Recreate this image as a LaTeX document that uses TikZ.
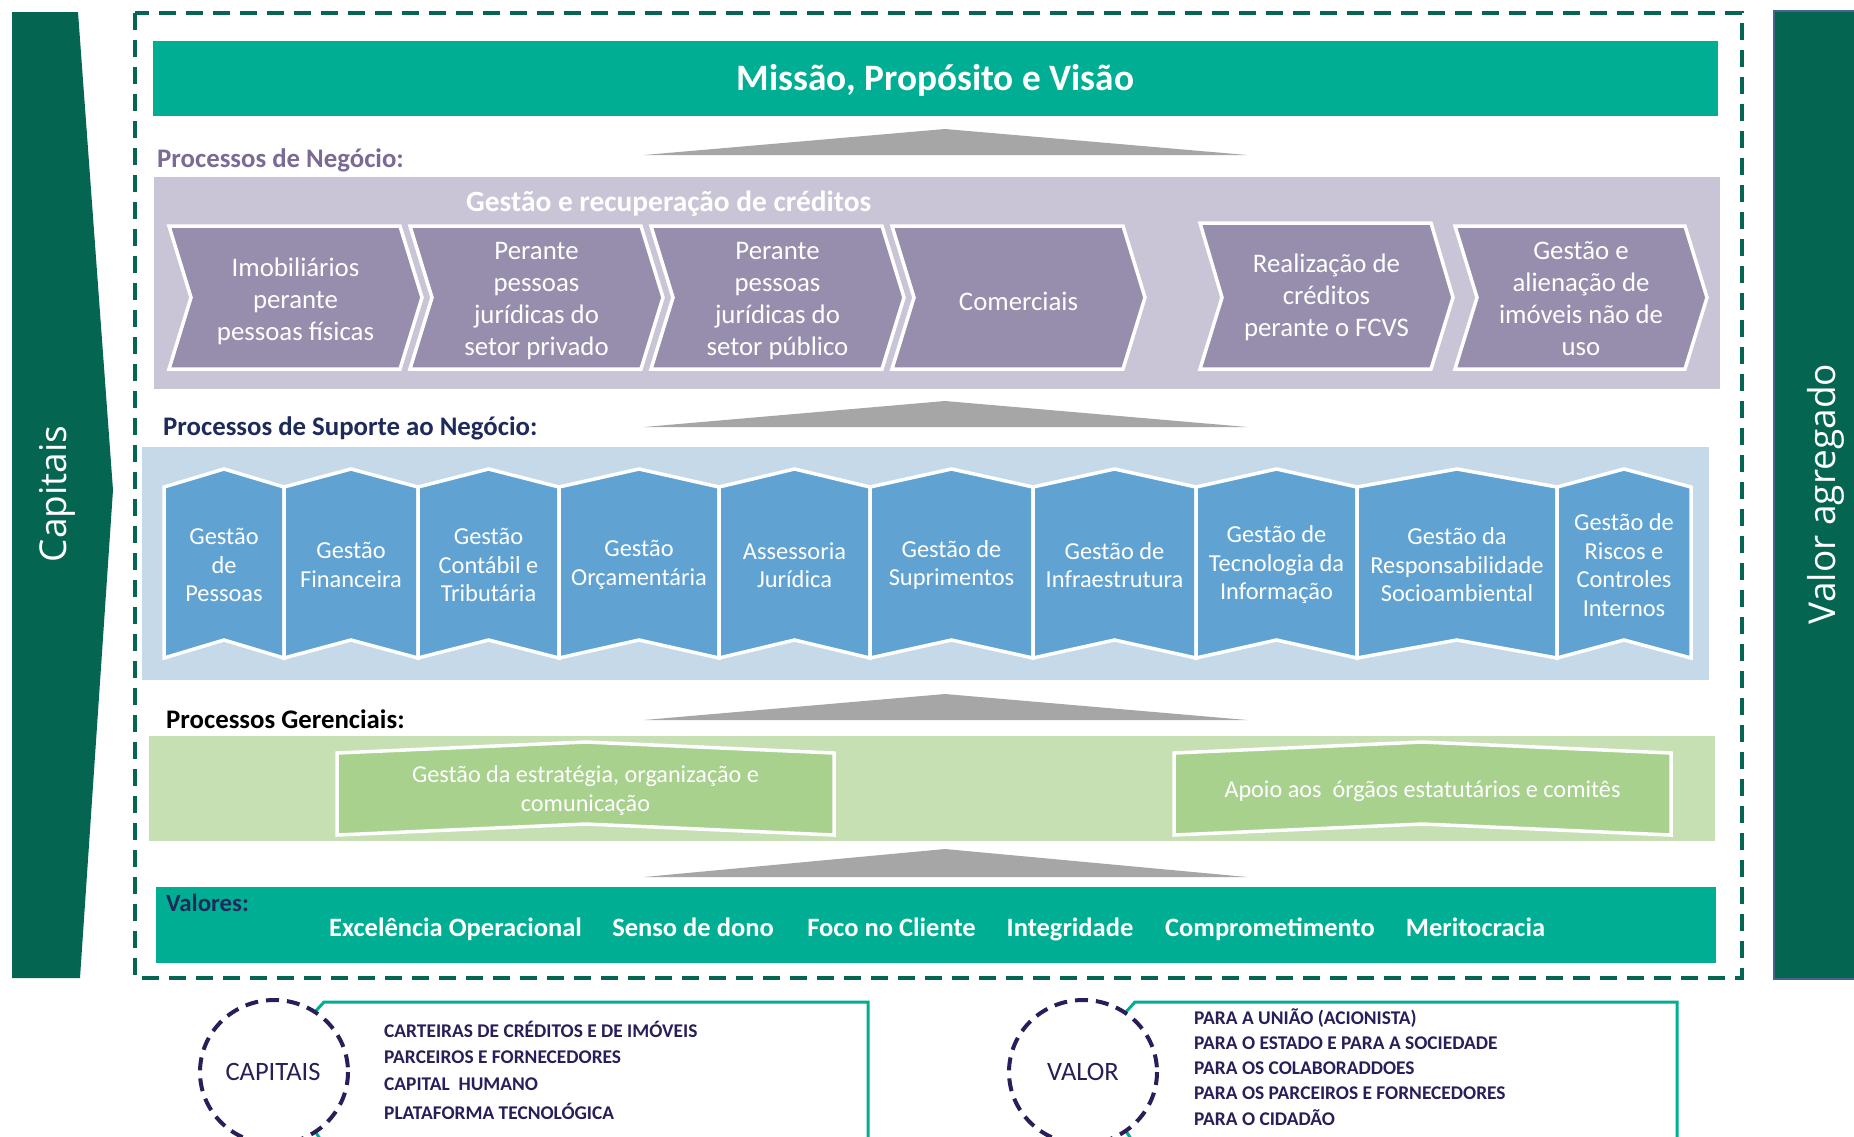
\documentclass[tikz,border=0pt]{standalone}
\usepackage{fontspec}
\setmainfont{Carlito}
\newfontfamily\sidefont{Open Sans}
\definecolor{teal}{RGB}{0,174,147}
\definecolor{dkgreen}{RGB}{4,102,80}
\definecolor{pband}{RGB}{201,197,214}
\definecolor{chev}{RGB}{151,141,173}
\definecolor{neglbl}{RGB}{122,106,150}
\definecolor{bband}{RGB}{197,217,233}
\definecolor{pen}{RGB}{96,163,211}
\definecolor{navy}{RGB}{31,42,92}
\definecolor{gband}{RGB}{198,224,180}
\definecolor{gshape}{RGB}{169,209,142}
\definecolor{tri}{RGB}{166,166,166}
\definecolor{bpurple}{RGB}{42,30,90}
\definecolor{sideedge}{RGB}{70,100,140}
\begin{document}
\begin{tikzpicture}[x=1pt,y=-1pt,
  lbl/.style={anchor=west,inner sep=0,font=\bfseries\fontsize{26.8}{31}\selectfont},
  chevtxt/.style={align=center,text=white,inner sep=0,font=\fontsize{26.8}{32}\selectfont},
  pentxt/.style={align=center,text=white,inner sep=0,font=\fontsize{24.4}{28.5}\selectfont},
  gtxt/.style={align=center,text=white,inner sep=0,font=\fontsize{24.2}{29}\selectfont},
  valtxt/.style={anchor=base,text=white,inner sep=0,font=\bfseries\fontsize{26.5}{30}\selectfont},
  sidetxt/.style={rotate=90,text=white,inner sep=0,font=\sidefont\fontsize{37}{42}\selectfont},
  listtxt/.style={anchor=west,inner sep=0,text=bpurple,font=\bfseries\fontsize{19.4}{23}\selectfont},
  circtxt/.style={inner sep=0,text=bpurple,font=\fontsize{26.5}{31}\selectfont},
  whiteedge/.style={draw=white,line width=3.5pt,line join=miter},
  uptri/.style={fill=tri}
]
\useasboundingbox (0,0) rectangle (1854,1136);
\fill[white] (0,0) rectangle (1854,1136);

% side panels
\fill[dkgreen] (12,12) -- (78,12) -- (113,490) -- (80,978) -- (12,978) -- cycle;
\node[sidetxt] (capitais) at (57,494) {Capitais};
\fill[dkgreen,draw=sideedge,line width=1.5pt] (1774,11) rectangle (1858,979);
\node[sidetxt] (valoragregado) at (1826,494) {Valor agregado};

% dashed frame
\draw[dkgreen,line width=3.5pt,dash pattern=on 17pt off 10pt] (135,13) rectangle (1742,978);

% mission
\fill[teal] (153,41) rectangle (1718,116);
\node[text=white,inner sep=0,font=\bfseries\fontsize{37.3}{43}\selectfont] (missao) at (935.5,80.5) {Missão, Propósito e Visão};

% triangles
\fill[uptri] (644,155) -- (945,129) -- (1247,155) -- cycle;
\fill[uptri] (644,427) -- (945,401) -- (1247,427) -- cycle;
\fill[uptri] (644,720) -- (945,694) -- (1247,720) -- cycle;
\fill[uptri] (644,877) -- (945,849) -- (1247,877) -- cycle;

% business processes
\node[lbl,text=neglbl] (negocio) at (157,160) {Processos de Negócio:};
\fill[pband] (154,177) rectangle (1720,389);
\node[text=white,inner sep=0,anchor=west,font=\bfseries\fontsize{29.4}{34}\selectfont] (gestrec) at (466,204) {Gestão e recuperação de créditos};
\foreach \i/\xa/\xb/\ya/\ty/\t in {
  1/169/422/226/301/{Imobiliários\\perante\\pessoas físicas},
  2/410/663/226/301/{Perante\\pessoas\\jurídicas do\\setor privado},
  3/651/904/226/301/{Perante\\pessoas\\jurídicas do\\setor público},
  4/892/1145/226/301/{Comerciais},
  5/1200/1453/223/297.5/{Realização de\\créditos\\perante o FCVS},
  6/1455/1707/226/298.5/{Gestão e\\alienação de\\imóveis não de\\uso}}{
  \fill[chev,whiteedge] (\xa,\ya) -- (\xb-22,\ya) -- (\xb,297.5) -- (\xb-22,369) -- (\xa,369) -- (\xa+22,297.5) -- cycle;
  \node[chevtxt] (chev\i) at ({(\xa+\xb)/2},\ty) {\t};
}

% support processes
\node[lbl,text=navy] (suporte) at (163,428) {Processos de Suporte ao Negócio:};
\fill[bband] (142,447) rectangle (1709,680);
\foreach \i/\xa/\xb/\t in {
  1/164/284/{Gestão\\de\\Pessoas},
  2/284/418/{Gestão\\Financeira},
  3/418/559/{Gestão\\Contábil e\\Tributária},
  4/559/719/{Gestão\\Orçamentária},
  5/719/870/{Assessoria\\Jurídica},
  6/870/1033/{Gestão de\\Suprimentos},
  7/1033/1196/{Gestão de\\Infraestrutura},
  8/1196/1357/{Gestão de\\Tecnologia da\\Informação},
  9/1357/1557/{Gestão da\\Responsabilidade\\Socioambiental},
  10/1557/1691/{Gestão de\\Riscos e\\Controles\\Internos}}{
  \fill[pen,whiteedge] (\xa,487) -- ({(\xa+\xb)/2},469) -- (\xb,487) -- (\xb,658) -- ({(\xa+\xb)/2},640) -- (\xa,658) -- cycle;
  \node[pentxt] (sup\i) at ({(\xa+\xb)/2},565) {\t};
}

% management processes
\node[lbl,text=black] (gerenciais) at (166,719) {Processos Gerenciais:};
\fill[gband] (149,736) rectangle (1715,841);
\fill[gshape,whiteedge] (337,753) -- (585.5,742) -- (834,753) -- (834,835) -- (585.5,824) -- (337,835) -- cycle;
\node[gtxt] (estrategia) at (585.5,791) {Gestão da estratégia, organização e\\comunicação};
\fill[gshape,whiteedge] (1174,753) -- (1422.5,742) -- (1671,753) -- (1671,835) -- (1422.5,824) -- (1174,835) -- cycle;
\node[gtxt] (apoio) at (1422.5,791.5) {Apoio aos\ \ órgãos estatutários e comitês};

% values
\fill[teal] (156,887) rectangle (1716,963);
\node[lbl,text=navy,font=\bfseries\fontsize{24.8}{29}\selectfont] (valores) at (166,903) {Valores:};
\node[valtxt] (v1) at (455.5,936) {Excelência Operacional};
\node[valtxt] (v2) at (693,936) {Senso de dono};
\node[valtxt] (v3) at (891.5,936) {Foco no Cliente};
\node[valtxt] (v4) at (1070,936) {Integridade};
\node[valtxt] (v5) at (1270,936) {Comprometimento};
\node[valtxt] (v6) at (1475.5,936) {Meritocracia};

% bottom: capitais
\draw[teal,line width=3pt] (314,1013) -- (324,1002) -- (868,1002) -- (868,1145);
\draw[teal,line width=3pt] (315,1131) -- (322,1142);
\draw[bpurple,line width=4pt,dash pattern=on 13pt off 8pt] (274,1072) ellipse [x radius=74, y radius=72];
\node[circtxt] (capcirc) at (273,1072) {CAPITAIS};
\node[listtxt] (cap1) at (384,1029) {CARTEIRAS DE CRÉDITOS E DE IMÓVEIS};
\node[listtxt] (cap2) at (384,1057) {PARCEIROS E FORNECEDORES};
\node[listtxt] (cap3) at (384,1084) {CAPITAL\ \ HUMANO};
\node[listtxt] (cap4) at (384,1111) {PLATAFORMA TECNOLÓGICA};

% bottom: valor
\draw[teal,line width=3pt] (1125,1013) -- (1135,1002) -- (1677,1002) -- (1677,1145);
\draw[teal,line width=3pt] (1126,1131) -- (1133,1142);
\draw[bpurple,line width=4pt,dash pattern=on 13pt off 8pt] (1083,1072) ellipse [x radius=74, y radius=72];
\node[circtxt] (valcirc) at (1083,1072) {VALOR};
\node[listtxt] (val1) at (1194,1018) {PARA A UNIÃO (ACIONISTA)};
\node[listtxt] (val2) at (1194,1043) {PARA O ESTADO E PARA A SOCIEDADE};
\node[listtxt] (val3) at (1194,1068) {PARA OS COLABORADDOES};
\node[listtxt] (val4) at (1194,1093) {PARA OS PARCEIROS E FORNECEDORES};
\node[listtxt] (val5) at (1194,1118) {PARA O CIDADÃO};
\end{tikzpicture}
\end{document}
